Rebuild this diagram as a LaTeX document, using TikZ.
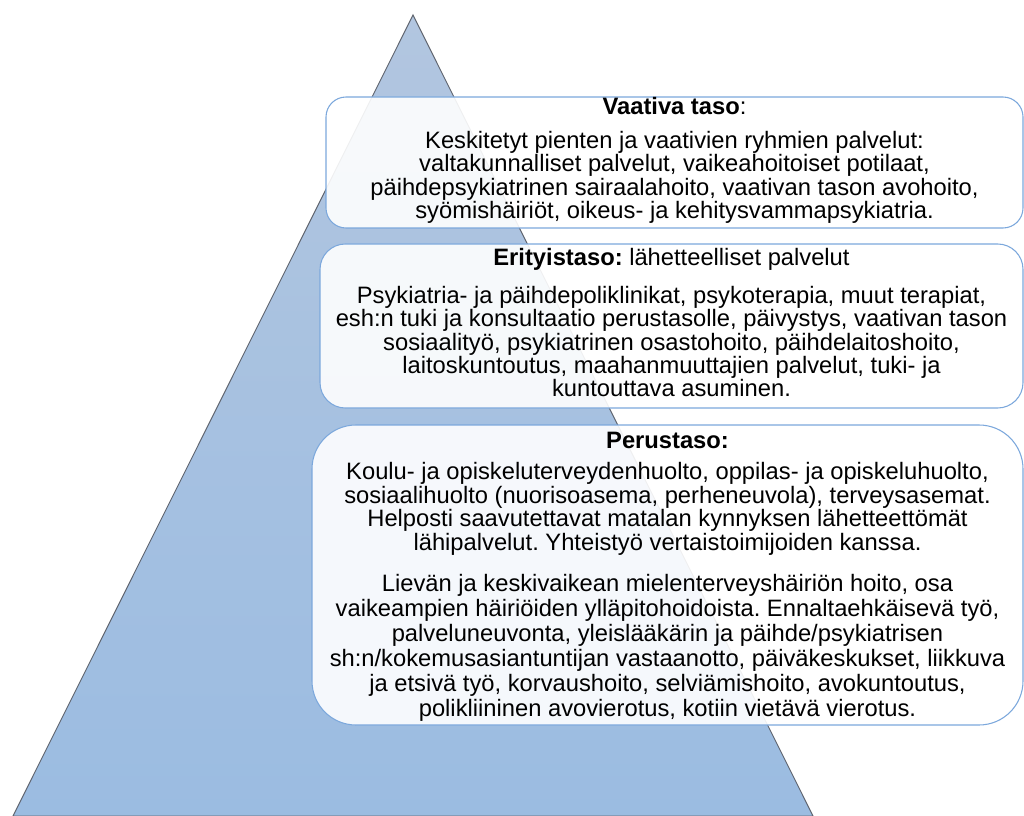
\documentclass[tikz,border=0pt]{standalone}
\usepackage{fontspec}
\setmainfont{Liberation Sans}
\frenchspacing
\definecolor{cPyrTop}{RGB}{178,198,224}
\definecolor{cPyrBot}{RGB}{155,188,225}
\definecolor{cEdge}{RGB}{124,168,220}
\definecolor{cSide}{RGB}{95,100,110}

\begin{document}
\begin{tikzpicture}[
    x=0.75pt, y=-0.75pt, font=\fontsize{17.8}{17.6}\selectfont,
    pyr/.style={draw=cSide, line width=0.7pt, top color=cPyrTop,
                bottom color=cPyrBot},
    lvl/.style={draw=cEdge, line width=0.8pt, fill=white,
                fill opacity=0.9},
    txt/.style={align=center, inner sep=0pt, anchor=base},
]
\useasboundingbox (0,0) rectangle (1024,816);

% ===================== Pyramidi =====================
\draw[pyr] (413,15) -- (813,816) -- (13,816) -- cycle;

% ===================== Vaativa taso =====================
% (tekstisolmun base = viimeisen rivin perusviiva)
\draw[lvl, rounded corners=15pt] (326,97) rectangle (1023,228);
\node[txt] (vaativaOts) at (674.5,115) {\textbf{Vaativa taso}:};
\node[txt, font=\fontsize{17.8}{17.5}\selectfont] (vaativaTxt) at (674.5,218.5)
      {Keskitetyt pienten ja vaativien ryhmien palvelut:\\
       valtakunnalliset palvelut, vaikeahoitoiset potilaat,\\
       päihdepsykiatrinen sairaalahoito, vaativan tason avohoito,\\
       syömishäiriöt, oikeus- ja kehitysvammapsykiatria.};

% ===================== Erityistaso =====================
\draw[lvl, rounded corners=19pt] (320,244) rectangle (1023,408);
\node[txt] (erityisOts) at (671.5,266) {\textbf{Erityistaso:} lähetteelliset palvelut};
\node[txt] (erityisTxt) at (671.5,397)
      {Psykiatria- ja päihdepoliklinikat, psykoterapia, muut terapiat,\\
       esh:n tuki ja konsultaatio perustasolle, päivystys, vaativan tason\\
       sosiaalityö, psykiatrinen osastohoito, päihdelaitoshoito,\\
       laitoskuntoutus, maahanmuuttajien palvelut, tuki- ja\\
       kuntouttava asuminen.};

% ===================== Perustaso =====================
\draw[lvl, rounded corners=33pt] (312,425) rectangle (1023,725);
\node[txt] (perusOts) at (667.5,448) {\textbf{Perustaso:}};
\node[txt] (perusTxt) at (667.5,550)
      {Koulu- ja opiskeluterveydenhuolto, oppilas- ja opiskeluhuolto,\\
       sosiaalihuolto (nuorisoasema, perheneuvola), terveysasemat.\\
       Helposti saavutettavat matalan kynnyksen lähetteettömät\\
       lähipalvelut. Yhteistyö vertaistoimijoiden kanssa.};
\node[txt, font=\fontsize{17.8}{18.7}\selectfont] (perusHoito) at (667.5,716)
      {Lievän ja keskivaikean mielenterveyshäiriön hoito, osa\\
       vaikeampien häiriöiden ylläpitohoidoista. Ennaltaehkäisevä työ,\\
       palveluneuvonta, yleislääkärin ja päihde/psykiatrisen\\
       sh:n/kokemusasiantuntijan vastaanotto, päiväkeskukset, liikkuva\\
       ja etsivä työ, korvaushoito, selviämishoito, avokuntoutus,\\
       polikliininen avovierotus, kotiin vietävä vierotus.};

\end{tikzpicture}
\end{document}
